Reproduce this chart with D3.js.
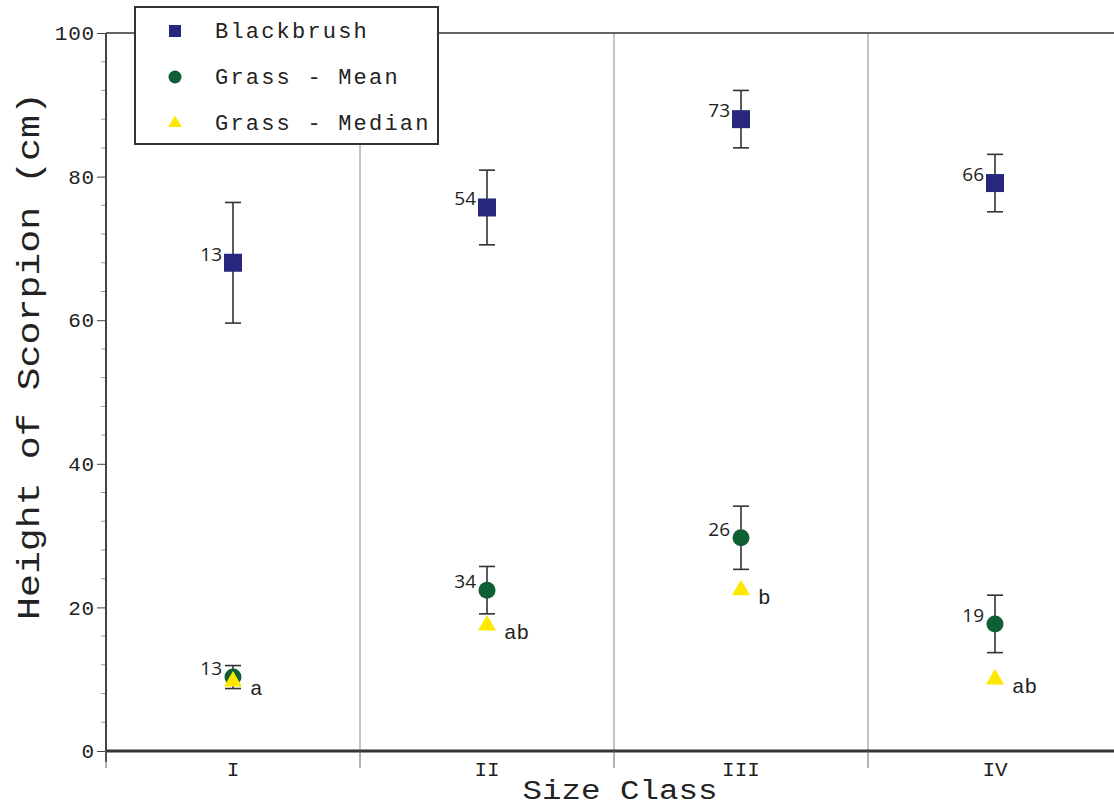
<!DOCTYPE html>
<html>
<head>
<meta charset="utf-8">
<script src="https://cdn.jsdelivr.net/npm/d3@7"></script>
<style>
  body { margin: 0; background: #fff; }
  svg { display: block; }
</style>
</head>
<body>
<div id="chart"></div>
<script>
const sizeClasses = ["I", "II", "III", "IV"];
const blackbrushMean = [68.0, 75.7, 88.0, 79.1];
const blackbrushErr = [8.4, 5.2, 4.0, 4.0];
const blackbrushN = [13, 54, 73, 66];
const grassMean = [10.3, 22.4, 29.7, 17.7];
const grassErr = [1.6, 3.3, 4.4, 4.0];
const grassN = [13, 34, 26, 19];
const grassMedian = [9.7, 17.5, 22.4, 10.0];
const medianLetters = ["a", "ab", "b", "ab"];
const yTicks = [0, 20, 40, 60, 80, 100];
const legendLabels = ["Blackbrush", "Grass - Mean", "Grass - Median"];

const W = 1114, H = 806;
const mono = "'Liberation Mono', 'DejaVu Sans Mono', monospace";
const sans = "'Open Sans', 'Liberation Sans', sans-serif";
const navy = "#27277d", green = "#0f5f35", yellow = "#ffe800";

const svg = d3.select("#chart").append("svg")
  .attr("width", W).attr("height", H);

const x = d3.scaleBand().domain(sizeClasses).range([106, 1122]).padding(0);
const y = d3.scaleLinear().domain([0, 100]).range([751, 33]);
const cx = d => x(d) + x.bandwidth() / 2;

// separators between classes
svg.append("g").selectAll("line")
  .data(sizeClasses.slice(1))
  .enter().append("line")
  .attr("x1", d => x(d)).attr("x2", d => x(d))
  .attr("y1", y(100)).attr("y2", y(0))
  .attr("stroke", "#8a8a8a").attr("stroke-width", 1);

// top frame line
svg.append("line")
  .attr("x1", 106).attr("x2", W).attr("y1", y(100)).attr("y2", y(100))
  .attr("stroke", "#333").attr("stroke-width", 1.5);

// y axis with minor ticks
const yAxis = svg.append("g")
  .attr("transform", "translate(106,0)")
  .call(d3.axisLeft(y).tickValues(yTicks).tickSize(9).tickPadding(2));
yAxis.select(".domain").remove();
yAxis.selectAll(".tick line").attr("stroke", "#444");
yAxis.selectAll("text")
  .style("font-family", mono).style("font-size", "21px")
  .style("letter-spacing", "0.8px").attr("fill", "#222");
svg.append("g").selectAll("line")
  .data(d3.range(0, 101, 4).filter(v => v % 20 !== 0))
  .enter().append("line")
  .attr("x1", 101).attr("x2", 106)
  .attr("y1", d => y(d)).attr("y2", d => y(d))
  .attr("stroke", "#999");
svg.append("line")
  .attr("x1", 106).attr("x2", 106).attr("y1", y(100)).attr("y2", 762)
  .attr("stroke", "#444").attr("stroke-width", 2);

// x axis
svg.append("line")
  .attr("x1", 106).attr("x2", W).attr("y1", y(0)).attr("y2", y(0))
  .attr("stroke", "#333").attr("stroke-width", 3);
svg.append("g").selectAll("line")
  .data(sizeClasses)
  .enter().append("line")
  .attr("x1", d => x(d)).attr("x2", d => x(d))
  .attr("y1", y(0)).attr("y2", 768)
  .attr("stroke", "#666");
svg.append("g").selectAll("text")
  .data(sizeClasses)
  .enter().append("text")
  .attr("x", cx).attr("y", 776)
  .attr("text-anchor", "middle")
  .style("font-family", mono).style("font-size", "21px")
  .attr("fill", "#222")
  .text(d => d);

// axis titles
svg.append("text")
  .attr("x", 620).attr("y", 799)
  .attr("text-anchor", "middle")
  .attr("textLength", 195).attr("lengthAdjust", "spacingAndGlyphs")
  .style("font-family", mono).style("font-size", "27px")
  .attr("fill", "#222")
  .text("Size Class");
svg.append("text")
  .attr("transform", "translate(39,356) rotate(-90)")
  .attr("text-anchor", "middle")
  .attr("textLength", 528).attr("lengthAdjust", "spacingAndGlyphs")
  .style("font-family", mono).style("font-size", "31px")
  .attr("fill", "#222")
  .text("Height of Scorpion (cm)");

// error bars
function errorBars(means, errs) {
  const g = svg.append("g").attr("stroke", "#333").attr("stroke-width", 1.6);
  sizeClasses.forEach((c, i) => {
    const xc = cx(c), top = y(means[i] + errs[i]), bot = y(means[i] - errs[i]);
    g.append("line").attr("x1", xc).attr("x2", xc).attr("y1", top).attr("y2", bot);
    g.append("line").attr("x1", xc - 8).attr("x2", xc + 8).attr("y1", top).attr("y2", top);
    g.append("line").attr("x1", xc - 8).attr("x2", xc + 8).attr("y1", bot).attr("y2", bot);
  });
  return g;
}

errorBars(blackbrushMean, blackbrushErr);
errorBars(grassMean, grassErr);

// blackbrush squares
svg.append("g").selectAll("path")
  .data(sizeClasses)
  .enter().append("path")
  .attr("transform", (d, i) => `translate(${cx(d)},${y(blackbrushMean[i])})`)
  .attr("d", d3.symbol(d3.symbolSquare, 324))
  .attr("fill", navy);

// grass mean circles
svg.append("g").selectAll("path")
  .data(sizeClasses)
  .enter().append("path")
  .attr("transform", (d, i) => `translate(${cx(d)},${y(grassMean[i])})`)
  .attr("d", d3.symbol(d3.symbolCircle, 227))
  .attr("fill", green);

// grass median triangles
svg.append("g").selectAll("path")
  .data(sizeClasses)
  .enter().append("path")
  .attr("transform", (d, i) => `translate(${cx(d)},${y(grassMedian[i])})`)
  .attr("d", d3.symbol(d3.symbolTriangle, 140))
  .attr("fill", yellow);

// sample sizes
function nLabels(means, ns) {
  svg.append("g").selectAll("text")
    .data(sizeClasses)
    .enter().append("text")
    .attr("x", d => cx(d) - 11)
    .attr("y", (d, i) => y(means[i]) - 2)
    .attr("text-anchor", "end")
    .style("font-family", sans).style("font-size", "19px")
    .attr("fill", "#222")
    .text((d, i) => ns[i]);
}
nLabels(blackbrushMean, blackbrushN);
nLabels(grassMean, grassN);

// significance letters
svg.append("g").selectAll("text")
  .data(sizeClasses)
  .enter().append("text")
  .attr("x", d => cx(d) + 17)
  .attr("y", (d, i) => y(grassMedian[i]) + 14)
  .style("font-family", mono).style("font-size", "21px")
  .attr("fill", "#222")
  .text((d, i) => medianLetters[i]);

// legend
const legend = svg.append("g").attr("transform", "translate(135,7)");
legend.append("rect")
  .attr("width", 303).attr("height", 137)
  .attr("fill", "#fff").attr("stroke", "#333").attr("stroke-width", 2);
const legendSymbols = [
  { type: d3.symbolSquare, size: 144, color: navy },
  { type: d3.symbolCircle, size: 133, color: green },
  { type: d3.symbolTriangle, size: 80, color: yellow }
];
legendLabels.forEach((label, i) => {
  const yy = 24 + i * 46;
  legend.append("path")
    .attr("transform", `translate(40,${yy})`)
    .attr("d", d3.symbol(legendSymbols[i].type, legendSymbols[i].size))
    .attr("fill", legendSymbols[i].color);
  legend.append("text")
    .attr("x", 80).attr("y", yy + 7)
    .style("font-family", mono).style("font-size", "22px")
    .style("letter-spacing", "2.2px")
    .attr("fill", "#222")
    .text(label);
});
</script>
</body>
</html>
